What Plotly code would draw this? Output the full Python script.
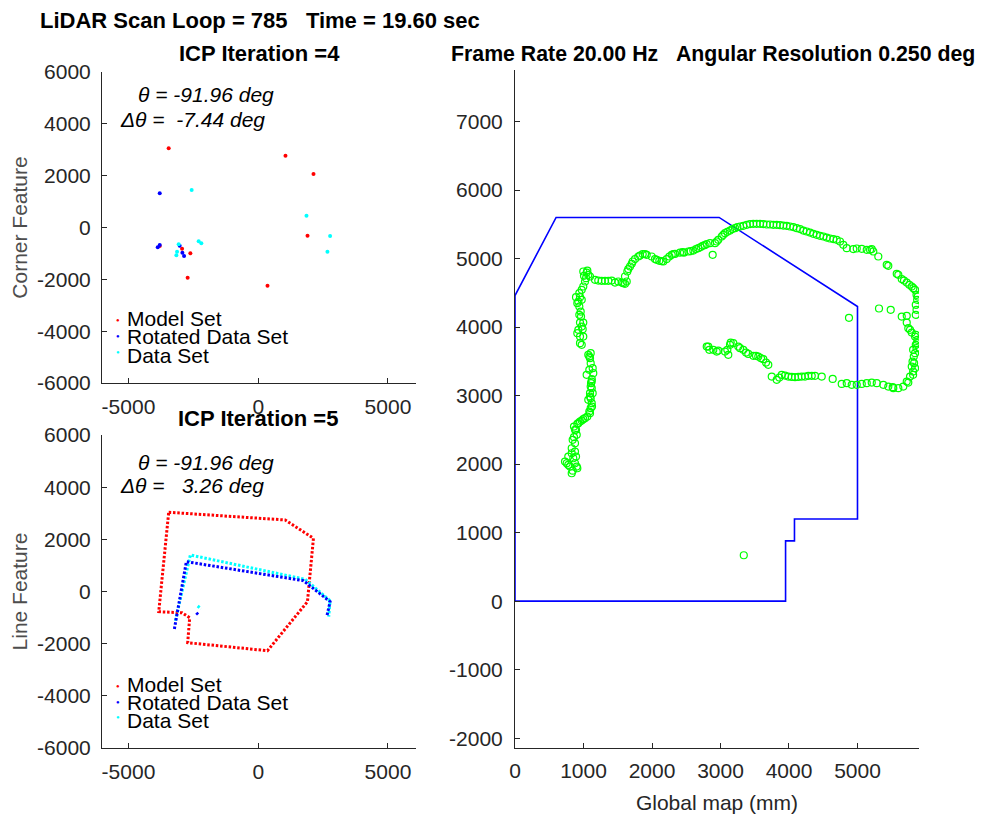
import plotly.graph_objects as go

# ---------------- data ----------------
# ICP iteration 4 : corner features
corner_model_x = [-3450, 1050, 2130, 1900, -2615, -2935, -3795, -2720, 358]
corner_model_y = [3055, 2770, 2065, -316, -996, -817, -714, -1937, -2245]
corner_rot_x = [-3795, -3872, -3795, -3027, -2923, -2858]
corner_rot_y = [1320, -765, -675, -702, -972, -1100]
corner_data_x = [-2565, 1860, 2770, 2667, -2295, -2192, -3065, -3127, -3154]
corner_data_y = [1447, 455, -328, -933, -533, -610, -650, -933, -1073]

# ICP iteration 5 : line features (vertices of the dotted polylines)
line_model_x = [-3450, 1038, 2128, 1897, 358, -2718, -2641, -2935, -3833, -3450]
line_model_y = [3037, 2742, 2040, -391, -2270, -1963, -1004, -817, -774, 3037]
line_rot_x = [-3231, -2769, 1744, 2770, 2641, None, -2385, -2270]
line_rot_y = [-1438, 1143, 415, -390, -965, None, -812, -928]
line_data_x = [-3192, -2615, 1808, 2769, 2718, None, -2333, -2205]
line_data_y = [-1120, 1400, 468, -353, -966, None, -556, -666]

# Global map : wall outline
wall_x = [0, 0, 600, 2980, 5000, 5000, 4080, 4080, 3950, 3950, 0]
wall_y = [0, 4460, 5600, 5600, 4300, 1200, 1200, 880, 880, 0, 0]

# Global map : lidar scan points
scan_pts = [
    (730, 2037), (778, 2110), (803, 1964), (828, 1867), (851, 2086), (876, 2013), (901, 1964),
    (755, 2013), (828, 2159), (891, 2110), (910, 1940), (842, 1905), (778, 1989),
    (828, 2232), (876, 2305), (861, 2393), (901, 2427), (891, 2500), (861, 2548), (910, 2587),
    (949, 2621), (997, 2656), (1056, 2694), (1095, 2743), (1105, 2816), (1120, 2889), (1105, 2962),
    (1095, 3035), (1120, 3108), (1110, 3181), (1121, 3240), (1143, 3327), (1134, 3400), (1105, 3473),
    (1095, 3546), (1070, 3595), (1105, 3619), (1046, 3303), (1085, 3376), (1134, 3035), (1070, 2938),
    (1085, 3570), (1120, 3205), (1105, 3132), (1095, 2986), (1124, 2840), (1085, 2767), (1022, 2670),
    (974, 2635), (925, 2597), (876, 2500), (842, 2354), (876, 2183),
    (974, 3741), (949, 3862), (997, 3862), (925, 3960), (988, 3970), (949, 4066), (997, 4066),
    (939, 4179), (959, 4227), (939, 4300), (925, 4373), (891, 4437), (949, 4437), (939, 4495),
    (974, 4544), (997, 4592), (1022, 4665), (1007, 4748), (1046, 4796), (1070, 4763), (1037, 4714),
    (1095, 4738), (997, 4811), (1056, 4825),
    (974, 4398), (910, 4349), (964, 4154), (974, 4008), (910, 3911), (949, 3765),
    (1168, 4690), (1266, 4675), (1314, 4675), (1412, 4679), (1460, 4650), (1508, 4665), (1558, 4650),
    (1606, 4631), (1631, 4665), (1606, 4738), (1640, 4811), (1679, 4884), (1718, 4957), (1752, 4992),
    (1800, 5030), (1864, 5065), (1923, 5055), (1996, 5030), (2044, 4992), (2107, 4967), (2165, 4957),
    (2215, 4992), (2288, 5055), (2336, 5069), (2409, 5088), (2467, 5088), (2530, 5103), (2603, 5117),
    (2676, 5152), (2740, 5186), (2799, 5211), (2886, 5055), (2920, 5225), (2968, 5274), (3018, 5322),
    (1216, 4679), (1362, 4675), (1581, 4641), (1654, 4846), (1704, 4923), (1825, 5044), (1898, 5065),
    (2069, 4982), (2142, 4962), (2253, 5030), (2311, 5065), (2448, 5094), (2565, 5109), (2643, 5138),
    (2711, 5167), (2770, 5196), (2847, 5225), (2945, 5249),
    (3066, 5371), (3139, 5409), (3212, 5444), (3285, 5468), (3383, 5493), (3479, 5507), (3577, 5507),
    (3675, 5497), (3771, 5493), (3869, 5488), (3967, 5478), (4063, 5459), (4161, 5430), (4259, 5395),
    (4355, 5361), (4453, 5332), (4551, 5307), (4647, 5284), (4745, 5249), (4843, 5152), (4939, 5138),
    (5062, 5142), (5183, 5128), (5231, 5103), (5304, 5030), (5427, 4909), (5573, 4777), (5646, 4700),
    (5719, 4650), (5792, 4592), (5840, 4544), (5862, 4471), (5871, 4398), (5851, 4325), (5862, 4252),
    (5851, 4179),
    (3041, 5347), (3100, 5390), (3173, 5430), (3246, 5459), (3333, 5478), (3431, 5503), (3528, 5507),
    (3625, 5503), (3723, 5497), (3821, 5493), (3917, 5482), (4015, 5468), (4113, 5444), (4210, 5409),
    (4307, 5380), (4405, 5347), (4502, 5322), (4599, 5293), (4697, 5274), (4793, 5201), (4989, 5147),
    (5135, 5128), (5208, 5138), (5450, 4894), (5596, 4763), (5679, 4679), (5757, 4617), (5815, 4568),
    (5880, 4446),
    (5314, 4271), (5485, 4252), (4876, 4135), (5646, 4154), (5719, 4164),
    (5719, 4066), (5742, 3984), (5792, 3920), (5840, 3862), (5874, 3814), (5851, 3741), (5812, 3668),
    (5822, 3570), (5804, 3497), (5792, 3424), (5812, 3351), (5767, 3278), (5719, 3205), (5669, 3132),
    (5742, 3190), (5812, 3303), (5840, 3400), (5826, 3473), (5840, 3619), (5862, 3692), (5871, 3765),
    (5851, 3887), (5767, 3960), (5514, 3123),
    (5596, 3108), (5523, 3108), (5450, 3132), (5377, 3157), (5281, 3181), (5208, 3190), (5135, 3181),
    (5062, 3171), (4989, 3157), (4916, 3157), (4843, 3181), (4638, 3244), (4478, 3278), (4380, 3288),
    (4282, 3288), (4186, 3278), (4088, 3269), (3990, 3278), (3894, 3303), (3821, 3230), (3748, 3278),
    (4770, 3171), (4332, 3288), (4234, 3278), (4136, 3273), (4040, 3273), (3942, 3292), (3859, 3263),
    (3698, 3449), (3625, 3532), (3552, 3570), (3479, 3580), (3406, 3609), (3333, 3668), (3260, 3716),
    (3187, 3765), (3139, 3741), (3100, 3668), (3114, 3595), (3066, 3643), (2968, 3657), (2895, 3668),
    (2822, 3716), (2799, 3716), (2837, 3668), (2945, 3643),
    (3285, 3692), (3373, 3628), (3519, 3580), (3592, 3546), (3665, 3482), (3149, 3774),
    (3340, 670),
]
scan_x = [p[0] for p in scan_pts]
scan_y = [p[1] for p in scan_pts]

# tick labels
left_xticks = [-5000, 0, 5000]
left_yticks = [-6000, -4000, -2000, 0, 2000, 4000, 6000]
right_xticks = [0, 1000, 2000, 3000, 4000, 5000]
right_yticks = [-2000, -1000, 0, 1000, 2000, 3000, 4000, 5000, 6000, 7000]

theta = -91.96
dtheta4 = -7.44
dtheta5 = 3.26

# ---------------- layout helpers ----------------
# the page body adds an 8px margin, so the figure covers window pixels 8..990 / 8..817
OFF = 8
W, H = 990 - OFF, 817 - OFF
FONT = "Liberation Sans, Arial, sans-serif"
INK = "#262626"


def PX(x):
    return (x - OFF) / W


def PY(y):
    return 1 - (y - OFF) / H


def lab(v):
    return [str(t) for t in v]


fig = go.Figure()

# top-left corner features
fig.add_trace(go.Scatter(x=corner_model_x, y=corner_model_y, mode="markers", name="Model Set",
                         marker=dict(color="#ff0000", size=4), xaxis="x", yaxis="y"))
fig.add_trace(go.Scatter(x=corner_rot_x, y=corner_rot_y, mode="markers", name="Rotated Data Set",
                         marker=dict(color="#0000ff", size=4), xaxis="x", yaxis="y"))
fig.add_trace(go.Scatter(x=corner_data_x, y=corner_data_y, mode="markers", name="Data Set",
                         marker=dict(color="#00ffff", size=4), xaxis="x", yaxis="y"))

# bottom-left line features (dotted)
DOT = "2.5px,1.8px"
fig.add_trace(go.Scatter(x=line_model_x, y=line_model_y, mode="lines", name="Model Set",
                         line=dict(color="#ff0000", width=3, dash=DOT), xaxis="x2", yaxis="y2"))
fig.add_trace(go.Scatter(x=line_data_x, y=line_data_y, mode="lines", name="Data Set",
                         line=dict(color="#00ffff", width=3, dash=DOT), xaxis="x2", yaxis="y2"))
fig.add_trace(go.Scatter(x=line_rot_x, y=line_rot_y, mode="lines", name="Rotated Data Set",
                         line=dict(color="#0000ff", width=3, dash=DOT), xaxis="x2", yaxis="y2"))

# right global map
fig.add_trace(go.Scatter(x=wall_x, y=wall_y, mode="lines", name="wall",
                         line=dict(color="#0000ff", width=1.6), xaxis="x3", yaxis="y3"))
fig.add_trace(go.Scatter(x=scan_x, y=scan_y, mode="markers", name="scan",
                         marker=dict(symbol="circle-open", color="#00ff00", size=7,
                                     line=dict(width=1.2, color="#00ff00")),
                         xaxis="x3", yaxis="y3"))

axis_common = dict(showline=True, linecolor=INK, linewidth=1, ticks="inside", ticklen=5,
                   tickcolor=INK, tickwidth=1, showgrid=False, zeroline=False, automargin=False,
                   tickfont=dict(family=FONT, size=21, color=INK), mirror=False)

fig.update_layout(
    width=W, height=H, margin=dict(l=0, r=0, t=0, b=0, pad=0, autoexpand=False),
    paper_bgcolor="white", plot_bgcolor="white", showlegend=False,
    font=dict(family=FONT, size=21, color="#000000"),
    xaxis=dict(domain=[PX(102), PX(416)], range=[-6020, 6080], anchor="y",
               tickvals=left_xticks, ticktext=lab(left_xticks), ticklabelstandoff=5, **axis_common),
    yaxis=dict(domain=[PY(383), PY(72)], range=[-6000, 6000], anchor="x",
               tickvals=left_yticks, ticktext=lab(left_yticks), ticklabelstandoff=6,
               title=dict(text="Corner Feature", font=dict(family=FONT, size=21, color="#4d4d4d"),
                          standoff=6), **axis_common),
    xaxis2=dict(domain=[PX(102), PX(416)], range=[-6020, 6080], anchor="y2",
                tickvals=left_xticks, ticktext=lab(left_xticks), ticklabelstandoff=5, **axis_common),
    yaxis2=dict(domain=[PY(748), PY(435)], range=[-6000, 6000], anchor="x2",
                tickvals=left_yticks, ticktext=lab(left_yticks), ticklabelstandoff=6,
                title=dict(text="Line Feature", font=dict(family=FONT, size=21, color="#4d4d4d"),
                           standoff=6), **axis_common),
    xaxis3=dict(domain=[PX(515), PX(919)], range=[0, 5898], anchor="y3",
                tickvals=right_xticks, ticktext=lab(right_xticks), ticklabelstandoff=4,
                title=dict(text="Global map (mm)", font=dict(family=FONT, size=21, color="#262626"),
                           standoff=14), **axis_common),
    yaxis3=dict(domain=[PY(748), PY(70)], range=[-2143, 7752], anchor="x3",
                tickvals=right_yticks, ticktext=lab(right_yticks), ticklabelstandoff=7,
                **axis_common),
)

anns = []


def text(x, y, s, anchor="left", size=21, bold=False, italic=False, color="#000000"):
    if bold:
        s = "<b>" + s + "</b>"
    if italic:
        s = "<i>" + s + "</i>"
    anns.append(dict(xref="paper", yref="paper", x=PX(x), y=PY(y), text=s, showarrow=False,
                     xanchor=anchor, yanchor="middle", font=dict(family=FONT, size=size, color=color)))


NB = "\u00a0"
text(38, 20, f"LiDAR Scan Loop = 785{NB*3}Time = 19.60 sec", size=22, bold=True)
text(259, 54, "ICP Iteration =4", anchor="center", size=22, bold=True)
text(258, 418, "ICP Iteration =5", anchor="center", size=22, bold=True)
text(713, 54, f"Frame Rate 20.00 Hz{NB*3}Angular Resolution 0.250 deg", anchor="center",
     size=21.3, bold=True)

text(136, 95, f"θ = {theta:.2f} deg", italic=True)
text(118, 119, f"Δθ = {NB}{dtheta4:.2f} deg", italic=True)
text(136, 462, f"θ = {theta:.2f} deg", italic=True)
text(118, 485, f"Δθ = {NB}{NB}{dtheta5:.2f} deg", italic=True)

legend_names = ["Model Set", "Rotated Data Set", "Data Set"]
legend_colors = ["#ff0000", "#0000ff", "#00ffff"]
for i, (nm, col) in enumerate(zip(legend_names, legend_colors)):
    text(125, 318 + 18.5 * i, nm)
    text(117.5, 320 + 16 * i, "●", anchor="center", size=6, color=col)
    text(125, 684 + 18.3 * i, nm)
    text(117.5, 686 + 15.5 * i, "●", anchor="center", size=6, color=col)

fig.update_layout(annotations=anns)
fig.write_html("out.html")
